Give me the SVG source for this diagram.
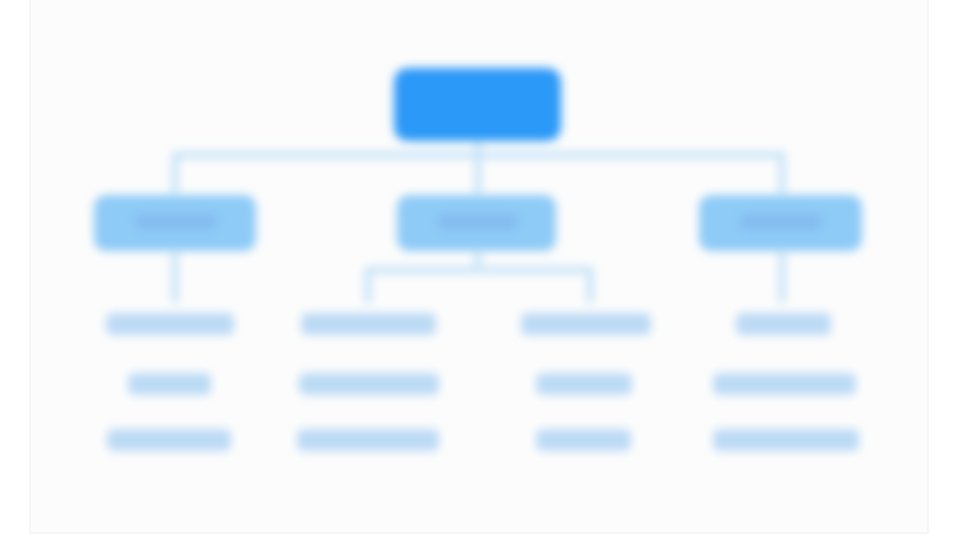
<svg xmlns="http://www.w3.org/2000/svg" width="960" height="540" viewBox="0 0 960 540">
  <defs>
    <style>
      .root { fill: #2b99f7; }
      .mid { fill: #8ecbf7; }
      .band { fill: #84bbef; }
      .leaf { fill: #bcdaf5; }
      .conn { fill: none; stroke: #c6e3f8; stroke-width: 7; stroke-linecap: round; stroke-linejoin: round; }
    </style>
    <filter id="soft" x="-30%" y="-30%" width="160%" height="160%">
      <feGaussianBlur stdDeviation="5"/>
    </filter>
  </defs>
  <rect x="0" y="0" width="960" height="540" fill="#ffffff"/>
  <rect x="30" y="-4" width="898" height="537" fill="#fcfcfc" stroke="#f6f6f6" stroke-width="2"/>

  <g id="connectors" filter="url(#soft)">
    <path class="conn" d="M478 142 V193"/>
    <path class="conn" d="M175 193 V155 H782 V193"/>
    <path class="conn" d="M175 252 V300"/>
    <path class="conn" d="M478 252 V270"/>
    <path class="conn" d="M368 300 V270 H590 V300"/>
    <path class="conn" d="M782 252 V300"/>
  </g>

  <g id="root" filter="url(#soft)">
    <rect class="root" x="394" y="68" width="167" height="73" rx="14"/>
  </g>

  <g id="node-left" filter="url(#soft)">
    <rect class="mid" x="94" y="195" width="162" height="56" rx="12"/>
    <rect class="band" x="135" y="214" width="82" height="16" rx="6"/>
  </g>
  <g id="node-middle" filter="url(#soft)">
    <rect class="mid" x="397" y="195" width="159" height="56" rx="12"/>
    <rect class="band" x="438" y="214" width="80" height="16" rx="6"/>
  </g>
  <g id="node-right" filter="url(#soft)">
    <rect class="mid" x="699" y="195" width="163" height="56" rx="12"/>
    <rect class="band" x="740" y="214" width="82" height="16" rx="6"/>
  </g>

  <g id="list-1" filter="url(#soft)">
    <rect class="leaf" x="106" y="313" width="128" height="22" rx="6"/>
    <rect class="leaf" x="128" y="373" width="83" height="22" rx="6"/>
    <rect class="leaf" x="107" y="429" width="124" height="22" rx="6"/>
  </g>
  <g id="list-2" filter="url(#soft)">
    <rect class="leaf" x="301" y="313" width="135" height="22" rx="6"/>
    <rect class="leaf" x="299" y="373" width="140" height="22" rx="6"/>
    <rect class="leaf" x="297" y="429" width="142" height="22" rx="6"/>
  </g>
  <g id="list-3" filter="url(#soft)">
    <rect class="leaf" x="521" y="313" width="130" height="22" rx="6"/>
    <rect class="leaf" x="536" y="373" width="96" height="22" rx="6"/>
    <rect class="leaf" x="536" y="429" width="95" height="22" rx="6"/>
  </g>
  <g id="list-4" filter="url(#soft)">
    <rect class="leaf" x="736" y="313" width="95" height="22" rx="6"/>
    <rect class="leaf" x="713" y="373" width="143" height="22" rx="6"/>
    <rect class="leaf" x="713" y="429" width="146" height="22" rx="6"/>
  </g>
</svg>
